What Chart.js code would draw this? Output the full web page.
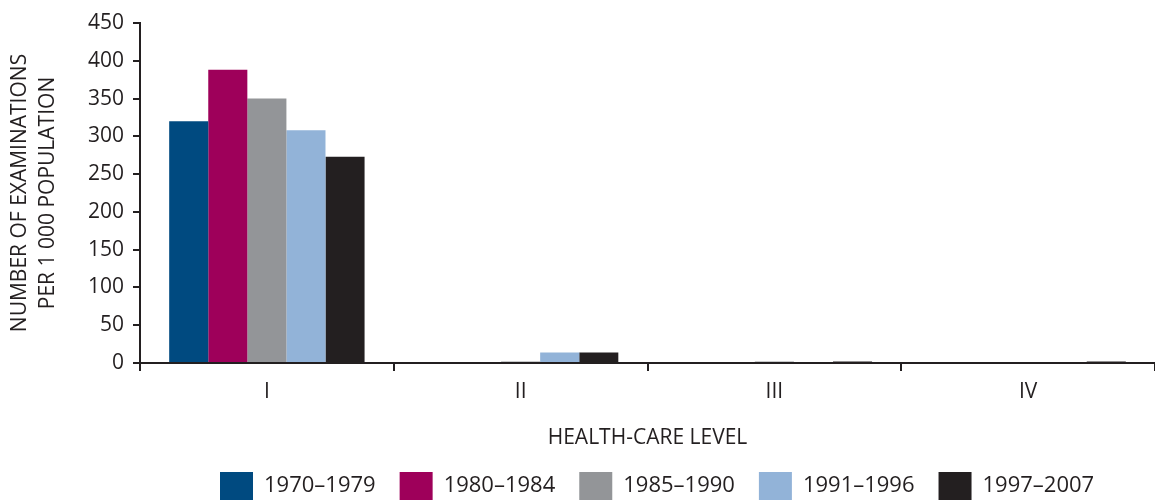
<!DOCTYPE html>
<html>
<head>
<meta charset="utf-8">
<script src="https://cdn.jsdelivr.net/npm/chart.js@4"></script>
<style>
html,body{margin:0;padding:0;background:#fff;overflow:hidden;}
#wrap{width:1155px;height:500px;position:relative;}
</style>
</head>
<body>
<div id="wrap"><canvas id="c" width="1155" height="500"></canvas></div>
<script>
const categories = ['I', 'II', 'III', 'IV'];
const seriesNames = ['1970\u20131979', '1980\u20131984', '1985\u20131990', '1991\u20131996', '1997\u20132007'];
const v1970_1979 = [320, 0, 0, 0];
const v1980_1984 = [388, 0, 0, 0];
const v1985_1990 = [350, 2, 2, 0];
const v1991_1996 = [308, 14, 0, 0];
const v1997_2007 = [273, 14, 2, 2];
const yTicks = [0, 50, 100, 150, 200, 250, 300, 350, 400, 450];
const seriesColors = ['#004a80', '#9e005a', '#939598', '#92b3d8', '#231f20'];
const seriesValues = [v1970_1979, v1980_1984, v1985_1990, v1991_1996, v1997_2007];

const ink = '#231f20';
const FONT = "'Open Sans', 'Liberation Sans', sans-serif";
const LEG_PAD = 24;

const legendPlace = {
  id: 'legendPlace',
  afterLayout(chart) {
    const lg = chart.legend;
    if (!lg) return;
    const h = lg.bottom - lg.top;
    lg.top = 472 - LEG_PAD;
    lg.bottom = lg.top + h;
    const lw = lg.lineWidths ? lg.lineWidths[0] : 900;
    lg.left = 2 * 220 - LEG_PAD - lg.right + lw;
  }
};

new Chart(document.getElementById('c'), {
  type: 'bar',
  data: {
    labels: categories,
    datasets: seriesNames.map((n, i) => ({
      label: n,
      data: seriesValues[i],
      backgroundColor: seriesColors[i],
      borderWidth: 0,
      barPercentage: 1,
      categoryPercentage: 0.77
    }))
  },
  plugins: [legendPlace],
  options: {
    responsive: false,
    animation: false,
    devicePixelRatio: 1,
    layout: { padding: { left: 0, right: 0, top: 23, bottom: -25 } },
    plugins: {
      tooltip: { enabled: false },
      legend: {
        position: 'bottom',
        labels: {
          boxWidth: 33,
          boxHeight: 28,
          padding: LEG_PAD,
          color: ink,
          font: { family: FONT, size: 22 }
        }
      }
    },
    scales: {
      x: {
        offset: true,
        afterFit: (s) => {
          const lh = s.chart.legend ? s.chart.legend.height : 64;
          s.height = 525 - lh - 363;
        },
        grid: {
          display: true,
          offset: true,
          drawOnChartArea: false,
          drawTicks: true,
          tickLength: 8,
          color: ink,
          lineWidth: 2
        },
        border: { display: true, color: ink, width: 2 },
        ticks: { color: ink, font: { family: FONT, size: 21 }, padding: 8 },
        title: {
          display: true,
          text: 'HEALTH-CARE LEVEL',
          color: ink,
          font: { family: FONT, size: 21 },
          padding: { top: 10, bottom: 12 }
        }
      },
      y: {
        min: 0,
        max: 450,
        afterBuildTicks: (s) => { s.ticks = yTicks.map(v => ({ value: v })); },
        afterFit: (s) => { s.width = 140; },
        grid: {
          display: true,
          drawOnChartArea: false,
          drawTicks: true,
          tickLength: 7,
          color: ink,
          lineWidth: 2
        },
        border: { display: true, color: ink, width: 2 },
        ticks: { color: ink, font: { family: FONT, size: 21 }, padding: 9 },
        title: {
          display: true,
          text: ['NUMBER OF EXAMINATIONS', 'PER 1 000 POPULATION'],
          color: ink,
          font: { family: FONT, size: 21, lineHeight: 1.33 },
          padding: { top: 6, bottom: 0 }
        }
      }
    }
  }
});
</script>
</body>
</html>
